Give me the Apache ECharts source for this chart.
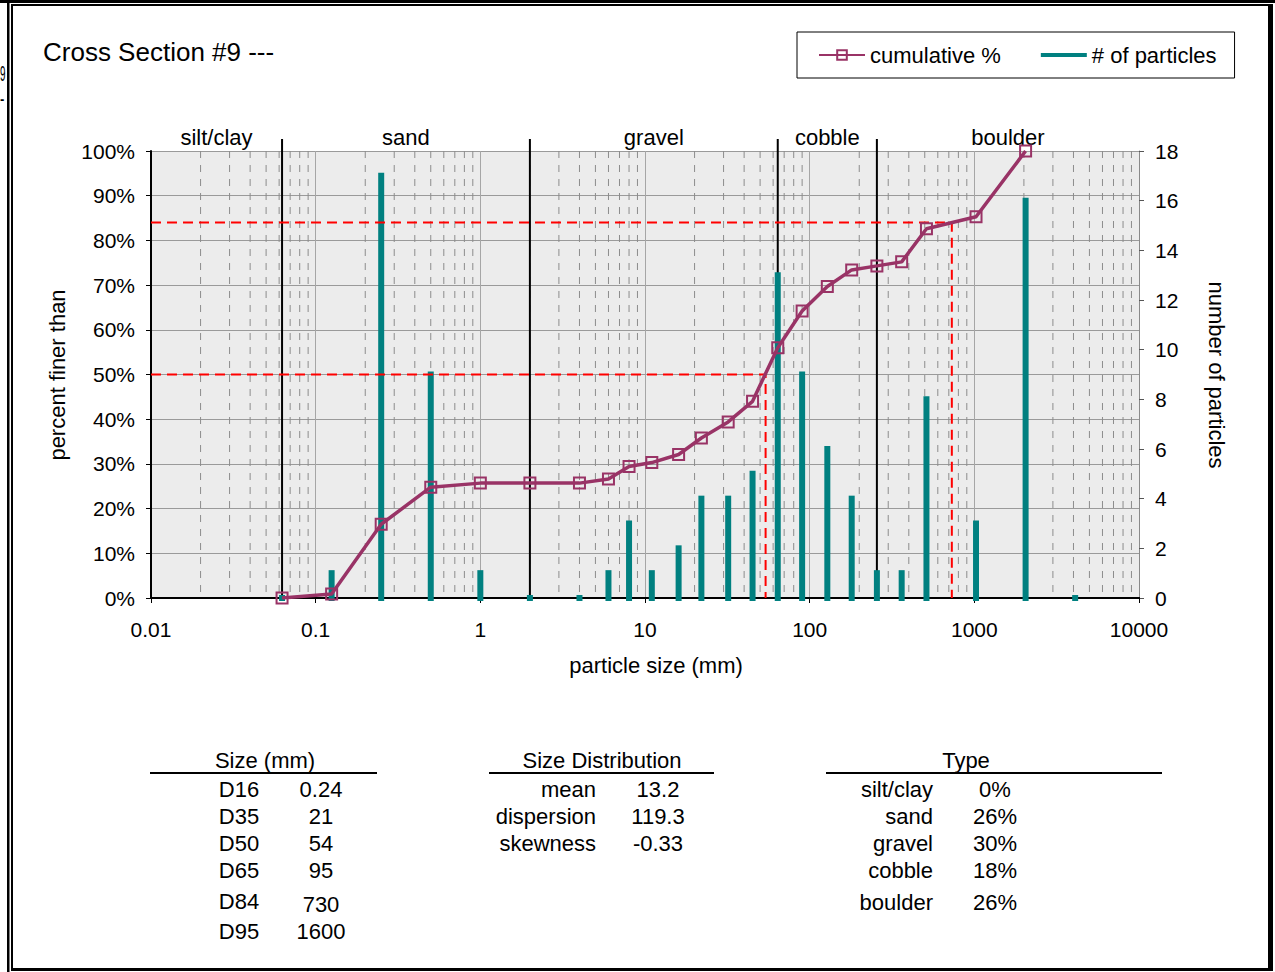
<!DOCTYPE html>
<html><head><meta charset="utf-8">
<script src="https://cdn.jsdelivr.net/npm/echarts@6/dist/echarts.min.js"></script>
<style>html,body{margin:0;padding:0;background:#fff}#c{width:1275px;height:972px}</style>
</head><body><div id="c"></div>
<script>
// ---- data ----
const titleText = 'Cross Section #9 ---';
const sizes = [0.0625, 0.125, 0.25, 0.5, 1, 2, 4, 6, 8, 11, 16, 22, 32, 45, 64, 90, 128, 180, 256, 362, 512, 1024, 2048, 4096];
const counts = [0, 1, 17, 9, 1, 0, 0, 1, 3, 1, 2, 4, 4, 5, 13, 9, 6, 4, 1, 1, 8, 3, 16, 0];
const cumulative = [0, 0.9, 16.5, 24.8, 25.7, 25.7, 25.7, 26.6, 29.4, 30.3, 32.1, 35.8, 39.4, 44.0, 56.0, 64.2, 69.7, 73.4, 74.3, 75.2, 82.6, 85.3, 100];
const classNames = ['silt/clay', 'sand', 'gravel', 'cobble', 'boulder'];
const classBounds = [0.01, 0.0625, 2, 64, 256, 10000];
const percentileLines = [[54, 50], [730, 84]];
const xTickLabels = ['0.01', '0.1', '1', '10', '100', '1000', '10000'];
const minorMultipliers = [2, 3, 4, 5, 6, 7, 8, 9];
const decades = [0.01, 0.1, 1, 10, 100, 1000];

const sizeHead = 'Size (mm)';
const sizeLabels = ['D16', 'D35', 'D50', 'D65', 'D84', 'D95'];
const sizeValues = ['0.24', '21', '54', '95', '730', '1600'];
const distHead = 'Size Distribution';
const distLabels = ['mean', 'dispersion', 'skewness'];
const distValues = ['13.2', '119.3', '-0.33'];
const typeHead = 'Type';
const typeLabels = ['silt/clay', 'sand', 'gravel', 'cobble', 'boulder'];
const typeValues = ['0%', '26%', '30%', '18%', '26%'];

// ---- layout ----
const FF = '"Liberation Sans", Arial, Helvetica, sans-serif';
const X_MIN = 0.01, X_MAX = 10000;
const rowY = [789, 816, 843, 870, 901, 931];
const sizeValY = [789, 816, 843, 870, 904, 931];
const typeRowY = [789, 816, 843, 870, 902];

const cumData = cumulative.map((v, i) => [sizes[i], v]);
const countData = sizes.map((s, i) => [s, counts[i]]);
const minorData = [];
decades.forEach(d => minorMultipliers.forEach(m => minorData.push([+(d * m).toPrecision(3), 0])));
const classData = classNames.map((n, i) => [classBounds[i], classBounds[i + 1]]);

function txt(text, x, y, align, size) {
  return { type: 'text', x: x, y: y, silent: true,
    style: { text: text, fill: '#000', fontSize: size || 22, fontFamily: FF, align: align || 'center', verticalAlign: 'middle' } };
}
function rect(x, y, w, h) {
  return { type: 'rect', silent: true, shape: { x: x, y: y, width: w, height: h }, style: { fill: '#000' } };
}

const graphic = [
  // frame
  rect(0, 0, 1275, 3), rect(7, 0, 2.5, 972), rect(11, 4, 2, 967), rect(11, 4, 1262, 2),
  rect(1268, 4, 5, 967), rect(11, 968, 1262, 3),
  { type: 'text', x: 0, y: 74, scaleX: 0.45, silent: true,
    style: { text: '9', fill: '#000', fontSize: 22, fontFamily: FF, align: 'left', verticalAlign: 'middle' } },
  { type: 'text', x: 0, y: 99, scaleX: 0.6, silent: true,
    style: { text: '-', fill: '#000', fontSize: 22, fontFamily: FF, align: 'left', verticalAlign: 'middle' } },
  txt(titleText, 43, 52, 'left', 26),
  txt('particle size (mm)', 656, 665, 'center', 22),
  { type: 'text', x: 57, y: 375, rotation: Math.PI / 2, silent: true,
    style: { text: 'percent finer than', fill: '#000', fontSize: 22, fontFamily: FF, align: 'center', verticalAlign: 'middle' } },
  { type: 'text', x: 1216, y: 375, rotation: -Math.PI / 2, silent: true,
    style: { text: 'number of particles', fill: '#000', fontSize: 22, fontFamily: FF, align: 'center', verticalAlign: 'middle' } },
  // tables
  txt(sizeHead, 265, 760), rect(150, 772, 227, 2),
  txt(distHead, 602, 760), rect(489, 772, 225, 2),
  txt(typeHead, 966, 760), rect(826, 772, 336, 2)
];
sizeLabels.forEach((l, i) => { graphic.push(txt(l, 239, rowY[i])); graphic.push(txt(sizeValues[i], 321, sizeValY[i])); });
distLabels.forEach((l, i) => { graphic.push(txt(l, 596, rowY[i], 'right')); graphic.push(txt(distValues[i], 658, rowY[i])); });
typeLabels.forEach((l, i) => { graphic.push(txt(l, 933, typeRowY[i], 'right')); graphic.push(txt(typeValues[i], 995, typeRowY[i])); });

const chart = echarts.init(document.getElementById('c'), null, { renderer: 'svg' });
chart.setOption({
  animation: false,
  backgroundColor: '#fff',
  textStyle: { fontFamily: FF },
  grid: { left: 151, right: 136, top: 151, bottom: 374, show: true, backgroundColor: '#ececec', borderWidth: 0 },
  legend: {
    left: 797, top: 32, padding: [12, 18, 12, 21], itemGap: 40, itemWidth: 46, itemHeight: 12,
    borderColor: '#000', borderWidth: 1, backgroundColor: '#fff', selectedMode: false,
    textStyle: { fontSize: 22, fontFamily: FF, color: '#000' },
    data: [{ name: 'cumulative %' }, { name: '# of particles', icon: 'path://M0,0H46V4H0Z' }]
  },
  xAxis: [
    { type: 'log', logBase: 10, min: X_MIN, max: X_MAX,
      axisLine: { show: true, lineStyle: { color: '#000', width: 2 } },
      axisTick: { show: true, length: 5, lineStyle: { color: '#000' } },
      axisLabel: { fontSize: 21, color: '#000', margin: 21, fontFamily: FF,
        formatter: v => xTickLabels[Math.round(Math.log10(v)) + 2] },
      splitLine: { show: true, lineStyle: { color: '#a6a6a6', width: 1 } } },
    { type: 'log', logBase: 10, min: X_MIN, max: X_MAX, position: 'top',
      axisLine: { show: true, lineStyle: { color: '#000', width: 2 } },
      axisTick: { show: false }, axisLabel: { show: false }, splitLine: { show: false } }
  ],
  yAxis: [
    { type: 'value', min: 0, max: 100, interval: 10,
      axisLine: { show: true, lineStyle: { color: '#000', width: 2 } },
      axisTick: { show: true, length: 5, lineStyle: { color: '#000' } },
      axisLabel: { fontSize: 21, color: '#000', margin: 16, formatter: '{value}%', fontFamily: FF },
      splitLine: { show: true, lineStyle: { color: '#9a9a9a', width: 1 } } },
    { type: 'value', min: 0, max: 18, interval: 2, position: 'right',
      axisLine: { show: true, lineStyle: { color: '#8a8a8a', width: 1 } },
      axisTick: { show: true, length: 5, lineStyle: { color: '#555' } },
      axisLabel: { fontSize: 21, color: '#000', margin: 16, fontFamily: FF },
      splitLine: { show: false } }
  ],
  series: [
    { name: 'minorGrid', type: 'custom', xAxisIndex: 0, yAxisIndex: 0, z: 1, silent: true,
      data: minorData,
      renderItem: (params, api) => {
        const b = api.coord([api.value(0), 0]), t = api.coord([api.value(0), 100]);
        return { type: 'line', shape: { x1: b[0], y1: t[1], x2: b[0], y2: b[1] },
          style: { stroke: '#8c8c8c', lineWidth: 1, lineDash: [7, 7] } };
      } },
    { name: 'classes', type: 'custom', xAxisIndex: 0, yAxisIndex: 0, z: 2, silent: true,
      data: classData,
      renderItem: (params, api) => {
        const lo = api.value(0), hi = api.value(1);
        const a = api.coord([lo, 100]), b = api.coord([hi, 100]), base = api.coord([hi, 0]);
        const children = [{ type: 'text', style: { text: classNames[params.dataIndex], x: (a[0] + b[0]) / 2, y: a[1] - 14,
          align: 'center', verticalAlign: 'middle', fontSize: 22, fontFamily: FF, fill: '#000' } }];
        if (hi < X_MAX) children.push({ type: 'line', shape: { x1: b[0], y1: a[1] - 12, x2: b[0], y2: base[1] },
          style: { stroke: '#000', lineWidth: 2 } });
        return { type: 'group', children: children };
      } },
    { name: '# of particles', type: 'custom', xAxisIndex: 0, yAxisIndex: 1, z: 3, silent: true,
      itemStyle: { color: '#008080' },
      data: countData,
      renderItem: (params, api) => {
        const b = api.coord([api.value(0), 0]), t = api.coord([api.value(0), api.value(1)]);
        return { type: 'rect', shape: { x: b[0] - 3, y: t[1] - 3, width: 6, height: b[1] - t[1] + 6 },
          style: { fill: '#008080' } };
      } },
    { name: 'percentiles', type: 'custom', xAxisIndex: 0, yAxisIndex: 0, z: 4, silent: true,
      data: percentileLines,
      renderItem: (params, api) => {
        const x = api.value(0), y = api.value(1);
        return { type: 'polyline', shape: { points: [api.coord([X_MIN, y]), api.coord([x, y]), api.coord([x, 0])] },
          style: { stroke: '#ff0000', lineWidth: 2, lineDash: [10, 6], fill: null } };
      } },
    { name: 'cumulative %', type: 'line', xAxisIndex: 0, yAxisIndex: 0, z: 5, silent: true,
      data: cumData, color: '#993366',
      lineStyle: { color: '#993366', width: 3.5 },
      symbol: 'rect', symbolSize: 11,
      itemStyle: { color: 'rgba(0,0,0,0)', borderColor: '#993366', borderWidth: 2 } }
  ],
  graphic: graphic
});
</script></body></html>
